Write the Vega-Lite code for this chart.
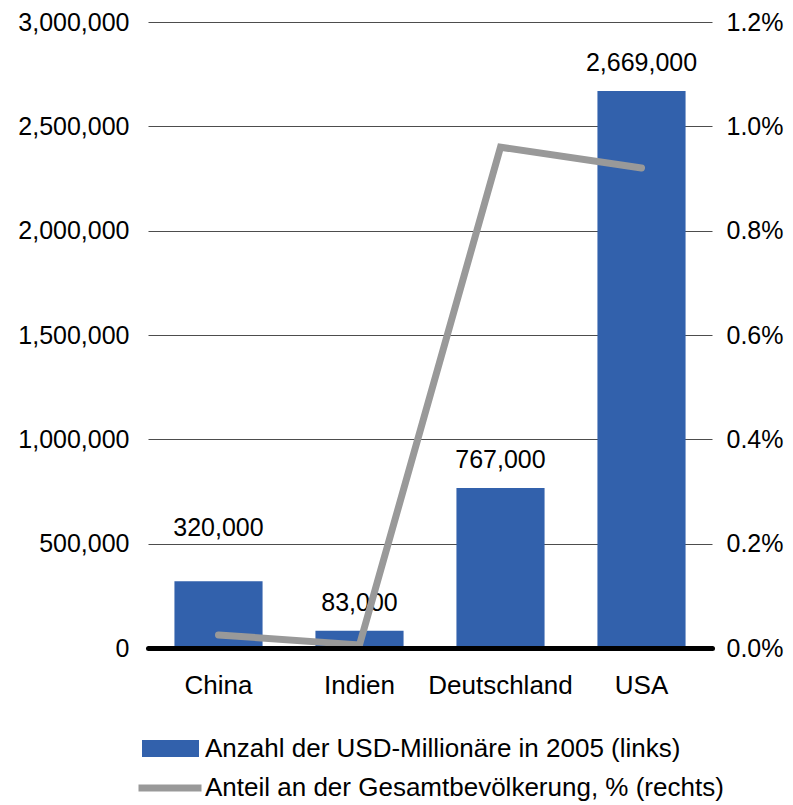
{
  "$schema": "https://vega.github.io/schema/vega-lite/v6.json",
  "width": 564,
  "height": 626,
  "autosize": "none",
  "padding": {"left": 148, "top": 22, "right": 81, "bottom": 157},
  "background": "white",
  "config": {
    "font": "Liberation Sans",
    "view": {"stroke": null},
    "axis": {"labelFont": "Liberation Sans", "labelFontSize": 25, "labelColor": "#000000"},
    "legend": {"labelFont": "Liberation Sans", "labelFontSize": 26, "labelColor": "#000000", "labelLimit": 0}
  },
  "data": {
    "values": [
      {"country": "China", "millionaires": 320000, "share": 0.00025},
      {"country": "Indien", "millionaires": 83000, "share": 0.00006},
      {"country": "Deutschland", "millionaires": 767000, "share": 0.0096},
      {"country": "USA", "millionaires": 2669000, "share": 0.0092}
    ]
  },
  "encoding": {
    "x": {
      "field": "country",
      "type": "nominal",
      "sort": null,
      "scale": {"paddingInner": 0.375, "paddingOuter": 0.1875},
      "axis": {
        "title": null,
        "labelAngle": 0,
        "ticks": false,
        "domainColor": "#000000",
        "domainWidth": 5,
        "domainCap": "round",
        "labelPadding": 24,
        "labelFontSize": 26,
        "zindex": 1
      }
    }
  },
  "layer": [
    {
      "mark": {"type": "bar"},
      "encoding": {
        "y": {
          "field": "millionaires",
          "type": "quantitative",
          "scale": {"domain": [0, 3000000], "nice": false},
          "axis": {
            "title": null,
            "orient": "left",
            "values": [0, 500000, 1000000, 1500000, 2000000, 2500000, 3000000],
            "format": ",.0f",
            "domain": false,
            "ticks": false,
            "grid": true,
            "gridColor": "#4d4d4d",
            "gridWidth": 1,
            "labelPadding": 19
          }
        },
        "fill": {
          "datum": "Anzahl der USD-Millionäre in 2005 (links)",
          "type": "nominal",
          "scale": {"range": ["#3261ac"]},
          "legend": {
            "title": null,
            "orient": "none",
            "legendX": -6,
            "legendY": 698,
            "padding": 0,
            "symbolType": "M-1,-0.3H1V0.3H-1Z",
            "symbolSize": 3249,
            "symbolStrokeWidth": 0,
            "symbolOpacity": 1,
            "labelOffset": 6,
            "labelLimit": 0
          }
        }
      }
    },
    {
      "transform": [{"filter": "datum.country != 'China'"}],
      "mark": {"type": "text", "baseline": "alphabetic", "dy": -20, "fontSize": 25, "color": "#000000"},
      "encoding": {
        "y": {"field": "millionaires", "type": "quantitative", "scale": {"domain": [0, 3000000], "nice": false}, "axis": null},
        "text": {"field": "millionaires", "type": "quantitative", "format": ",.0f"}
      }
    },
    {
      "transform": [{"filter": "datum.country == 'China'"}],
      "mark": {"type": "text", "baseline": "alphabetic", "dy": -45, "fontSize": 25, "color": "#000000"},
      "encoding": {
        "y": {"field": "millionaires", "type": "quantitative", "scale": {"domain": [0, 3000000], "nice": false}, "axis": null},
        "text": {"field": "millionaires", "type": "quantitative", "format": ",.0f"}
      }
    },
    {
      "mark": {"type": "line", "strokeWidth": 7, "strokeCap": "round", "strokeJoin": "miter"},
      "encoding": {
        "y": {
          "field": "share",
          "type": "quantitative",
          "scale": {"domain": [0, 0.012], "nice": false},
          "axis": {
            "title": null,
            "orient": "right",
            "values": [0, 0.002, 0.004, 0.006, 0.008, 0.01, 0.012],
            "format": ".1%",
            "domain": false,
            "ticks": false,
            "grid": false,
            "labelPadding": 14
          }
        },
        "stroke": {
          "datum": "Anteil an der Gesamtbevölkerung, % (rechts)",
          "type": "nominal",
          "scale": {"range": ["#999999"]},
          "legend": {
            "title": null,
            "orient": "none",
            "legendX": -13,
            "legendY": 731,
            "padding": 0,
            "symbolType": "stroke",
            "symbolSize": 3969,
            "symbolStrokeWidth": 7,
            "labelOffset": 0,
            "labelLimit": 0
          }
        }
      }
    }
  ],
  "resolve": {"scale": {"y": "independent", "fill": "independent", "stroke": "independent"}}
}
